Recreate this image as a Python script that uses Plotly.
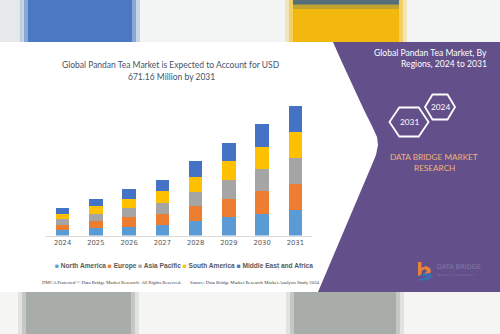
import plotly.graph_objects as go

W, H = 500, 334

years = ["2024", "2025", "2026", "2027", "2028", "2029", "2030", "2031"]
north_america = [27, 37, 46.5, 55, 74.5, 93.4, 112.5, 133.16]
europe = [28, 38, 48.5, 59, 77.8, 96.9, 115.9, 135]
asia_pacific = [29, 38, 47, 55, 74.5, 96.9, 115.9, 133]
south_america = [29, 38, 48.5, 59, 77.8, 96.9, 114.2, 135]
middle_east_africa = [30, 38, 48.5, 59, 79.5, 95.2, 117.6, 135]

series_names = ["North America", "Europe", "Asia Pacific", "South America", "Middle East and Africa"]
series_values = [north_america, europe, asia_pacific, south_america, middle_east_africa]
series_colors = ["#5b9bd5", "#ed7d31", "#a5a5a5", "#ffc000", "#4472c4"]


def px(x):
    return x / W


def py(y):
    return 1 - y / H


def path(points, close=True):
    s = "M " + " L ".join(f"{px(x):.5f},{py(y):.5f}" for x, y in points)
    return s + (" Z" if close else "")


fig = go.Figure()
for name, vals, col in zip(series_names, series_values, series_colors):
    fig.add_trace(go.Bar(x=years, y=vals, name=name, marker=dict(color=col, line=dict(width=0)),
                         showlegend=False))

shapes = []
# ---- top blurred strip
shapes.append(dict(type="rect", xref="paper", yref="paper", x0=0, x1=1, y0=py(42), y1=1,
                   fillcolor="#f3f4f4", line=dict(width=0), layer="below"))
shapes.append(dict(type="rect", xref="paper", yref="paper", x0=0, x1=px(22), y0=py(42), y1=1,
                   fillcolor="#e6e9e9", line=dict(width=0), layer="below"))
for pad, op in [(8, 0.25), (4, 0.5), (0, 1.0)]:
    shapes.append(dict(type="rect", xref="paper", yref="paper", x0=px(28 - pad), x1=px(132 + pad),
                       y0=py(42), y1=1, fillcolor="#4a78c2", opacity=op, line=dict(width=0), layer="below"))
for pad, op in [(8, 0.25), (4, 0.5), (0, 1.0)]:
    shapes.append(dict(type="rect", xref="paper", yref="paper", x0=px(293 - pad), x1=px(399 + pad),
                       y0=py(42), y1=1, fillcolor="#f2b80e", opacity=op, line=dict(width=0), layer="below"))
shapes.append(dict(type="rect", xref="paper", yref="paper", x0=px(293), x1=px(399), y0=py(5), y1=1,
                   fillcolor="#55707a", line=dict(width=0), layer="below"))
shapes.append(dict(type="rect", xref="paper", yref="paper", x0=px(293), x1=px(399), y0=py(9), y1=py(4),
                   fillcolor="#a4964a", opacity=0.6, line=dict(width=0), layer="below"))

# ---- white main band
shapes.append(dict(type="rect", xref="paper", yref="paper", x0=0, x1=1, y0=py(292), y1=py(42),
                   fillcolor="#ffffff", line=dict(width=0), layer="below"))

# ---- bottom blurred strip
shapes.append(dict(type="rect", xref="paper", yref="paper", x0=0, x1=1, y0=0, y1=py(292),
                   fillcolor="#f5f5f4", line=dict(width=0), layer="below"))
for x0, x1 in [(26, 131), (294, 396)]:
    for pad, op in [(8, 0.25), (4, 0.5), (0, 1.0)]:
        shapes.append(dict(type="rect", xref="paper", yref="paper", x0=px(x0 - pad), x1=px(x1 + pad),
                           y0=0, y1=py(292), fillcolor="#a9ada9", opacity=op, line=dict(width=0),
                           layer="below"))

# ---- purple panel
purple_pts = [(333, 42), (340, 58), (352, 84), (364, 110), (372, 126), (377, 137), (378, 145),
              (376, 155), (371, 167), (318, 292), (500, 292), (500, 42)]
shapes.append(dict(type="path", xref="paper", yref="paper", path=path(purple_pts),
                   fillcolor="#634f89", line=dict(width=0), layer="below"))


# ---- hexagons
def hexagon(cx, cy, w, h):
    return [(cx - w, cy), (cx - w / 2, cy - h), (cx + w / 2, cy - h), (cx + w, cy),
            (cx + w / 2, cy + h), (cx - w / 2, cy + h)]


shapes.append(dict(type="path", xref="paper", yref="paper", path=path(hexagon(440, 107, 15, 12.5)),
                   fillcolor="#634f89", line=dict(color="#ffffff", width=1.8)))
shapes.append(dict(type="path", xref="paper", yref="paper", path=path(hexagon(409, 122, 19.5, 14.5)),
                   fillcolor="#634f89", line=dict(color="#ffffff", width=1.8)))

# ---- logo
shapes.append(dict(type="rect", xref="paper", yref="paper", x0=px(418), x1=px(421.5), y0=py(276),
                   y1=py(262), fillcolor="#e8823a", line=dict(width=0)))
shapes.append(dict(type="path", xref="paper", yref="paper",
                   path=path([(421, 268), (426, 266), (430, 268), (431, 272), (428, 275), (424, 274),
                              (427, 271), (425, 269), (421, 271)]),
                   fillcolor="#e8823a", line=dict(width=0)))
shapes.append(dict(type="path", xref="paper", yref="paper",
                   path=path([(416, 277), (422, 274), (430, 273), (433, 276), (428, 280), (420, 281),
                              (418, 279), (424, 278), (428, 276), (422, 276)]),
                   fillcolor="#3c6db0", line=dict(width=0)))

ann = []
title_font = dict(family="Lato", size=8.5, color="#44546a")
ann.append(dict(x=px(171), y=py(65), text="Global Pandan Tea Market is Expected to Account for USD",
                font=title_font))
ann.append(dict(x=px(171), y=py(77), text="671.16 Million by 2031", font=title_font))

legend_text = " ".join(
    f"<span style='color:{c}'>■</span><b> {n}</b>" for n, c in zip(series_names, series_colors))
ann.append(dict(x=px(184), y=py(266), text=legend_text,
                font=dict(family="Liberation Sans", size=6.6, color="#595959")))
foot_font = dict(family="Liberation Serif", size=4.8, color="#404040")
ann.append(dict(x=px(40), y=py(282.5), xanchor="left",
                text="DMCA Protected © Data Bridge Market Research- All Rights Reserved.", font=foot_font))
ann.append(dict(x=px(188), y=py(282.5), xanchor="left",
                text="Source: Data Bridge Market Research Market Analysis Study 2024", font=foot_font))

side_font = dict(family="Lato", size=8.6, color="#ffffff")
ann.append(dict(x=px(489), y=py(53), xanchor="right", text="Global Pandan Tea Market, By", font=side_font))
ann.append(dict(x=px(489), y=py(64), xanchor="right", text="Regions, 2024 to 2031", font=side_font))
ann.append(dict(x=px(440), y=py(107), text="2024", font=dict(family="Lato", size=8.3, color="#ffffff")))
ann.append(dict(x=px(409), y=py(122), text="2031", font=dict(family="Lato", size=8.3, color="#ffffff")))
dbf = dict(family="Lato", size=8.2, color="#f2b37c")
ann.append(dict(x=px(434), y=py(157), text="DATA BRIDGE MARKET", font=dbf))
ann.append(dict(x=px(434), y=py(168), text="RESEARCH", font=dbf))
ann.append(dict(x=px(435), y=py(266.5), xanchor="left", text="DATA BRIDGE",
                font=dict(family="DejaVu Sans", size=6.5, color="#7d7fa6")))
ann.append(dict(x=px(436), y=py(275.5), xanchor="left", text="M A R K E T   R E S E A R C H",
                font=dict(family="DejaVu Sans", size=2.6, color="#7d7fa6")))
for a in ann:
    a.update(xref="paper", yref="paper", showarrow=False)
    a.setdefault("xanchor", "center")
    a.setdefault("yanchor", "middle")

fig.update_layout(
    width=W, height=H, margin=dict(l=0, r=0, t=0, b=0),
    paper_bgcolor="#ffffff", plot_bgcolor="rgba(0,0,0,0)",
    barmode="stack", bargap=0.59,
    shapes=shapes, annotations=ann,
    xaxis=dict(domain=[px(46), px(312)], showline=True, linecolor="#d9d9d9", linewidth=1,
               showgrid=False, ticks="", tickfont=dict(family="DejaVu Sans", size=6.8, color="#595959"),
               anchor="y"),
    yaxis=dict(domain=[py(235.5), py(100)], range=[0, 702], visible=False, showgrid=False),
)
fig.write_html("out.html")
